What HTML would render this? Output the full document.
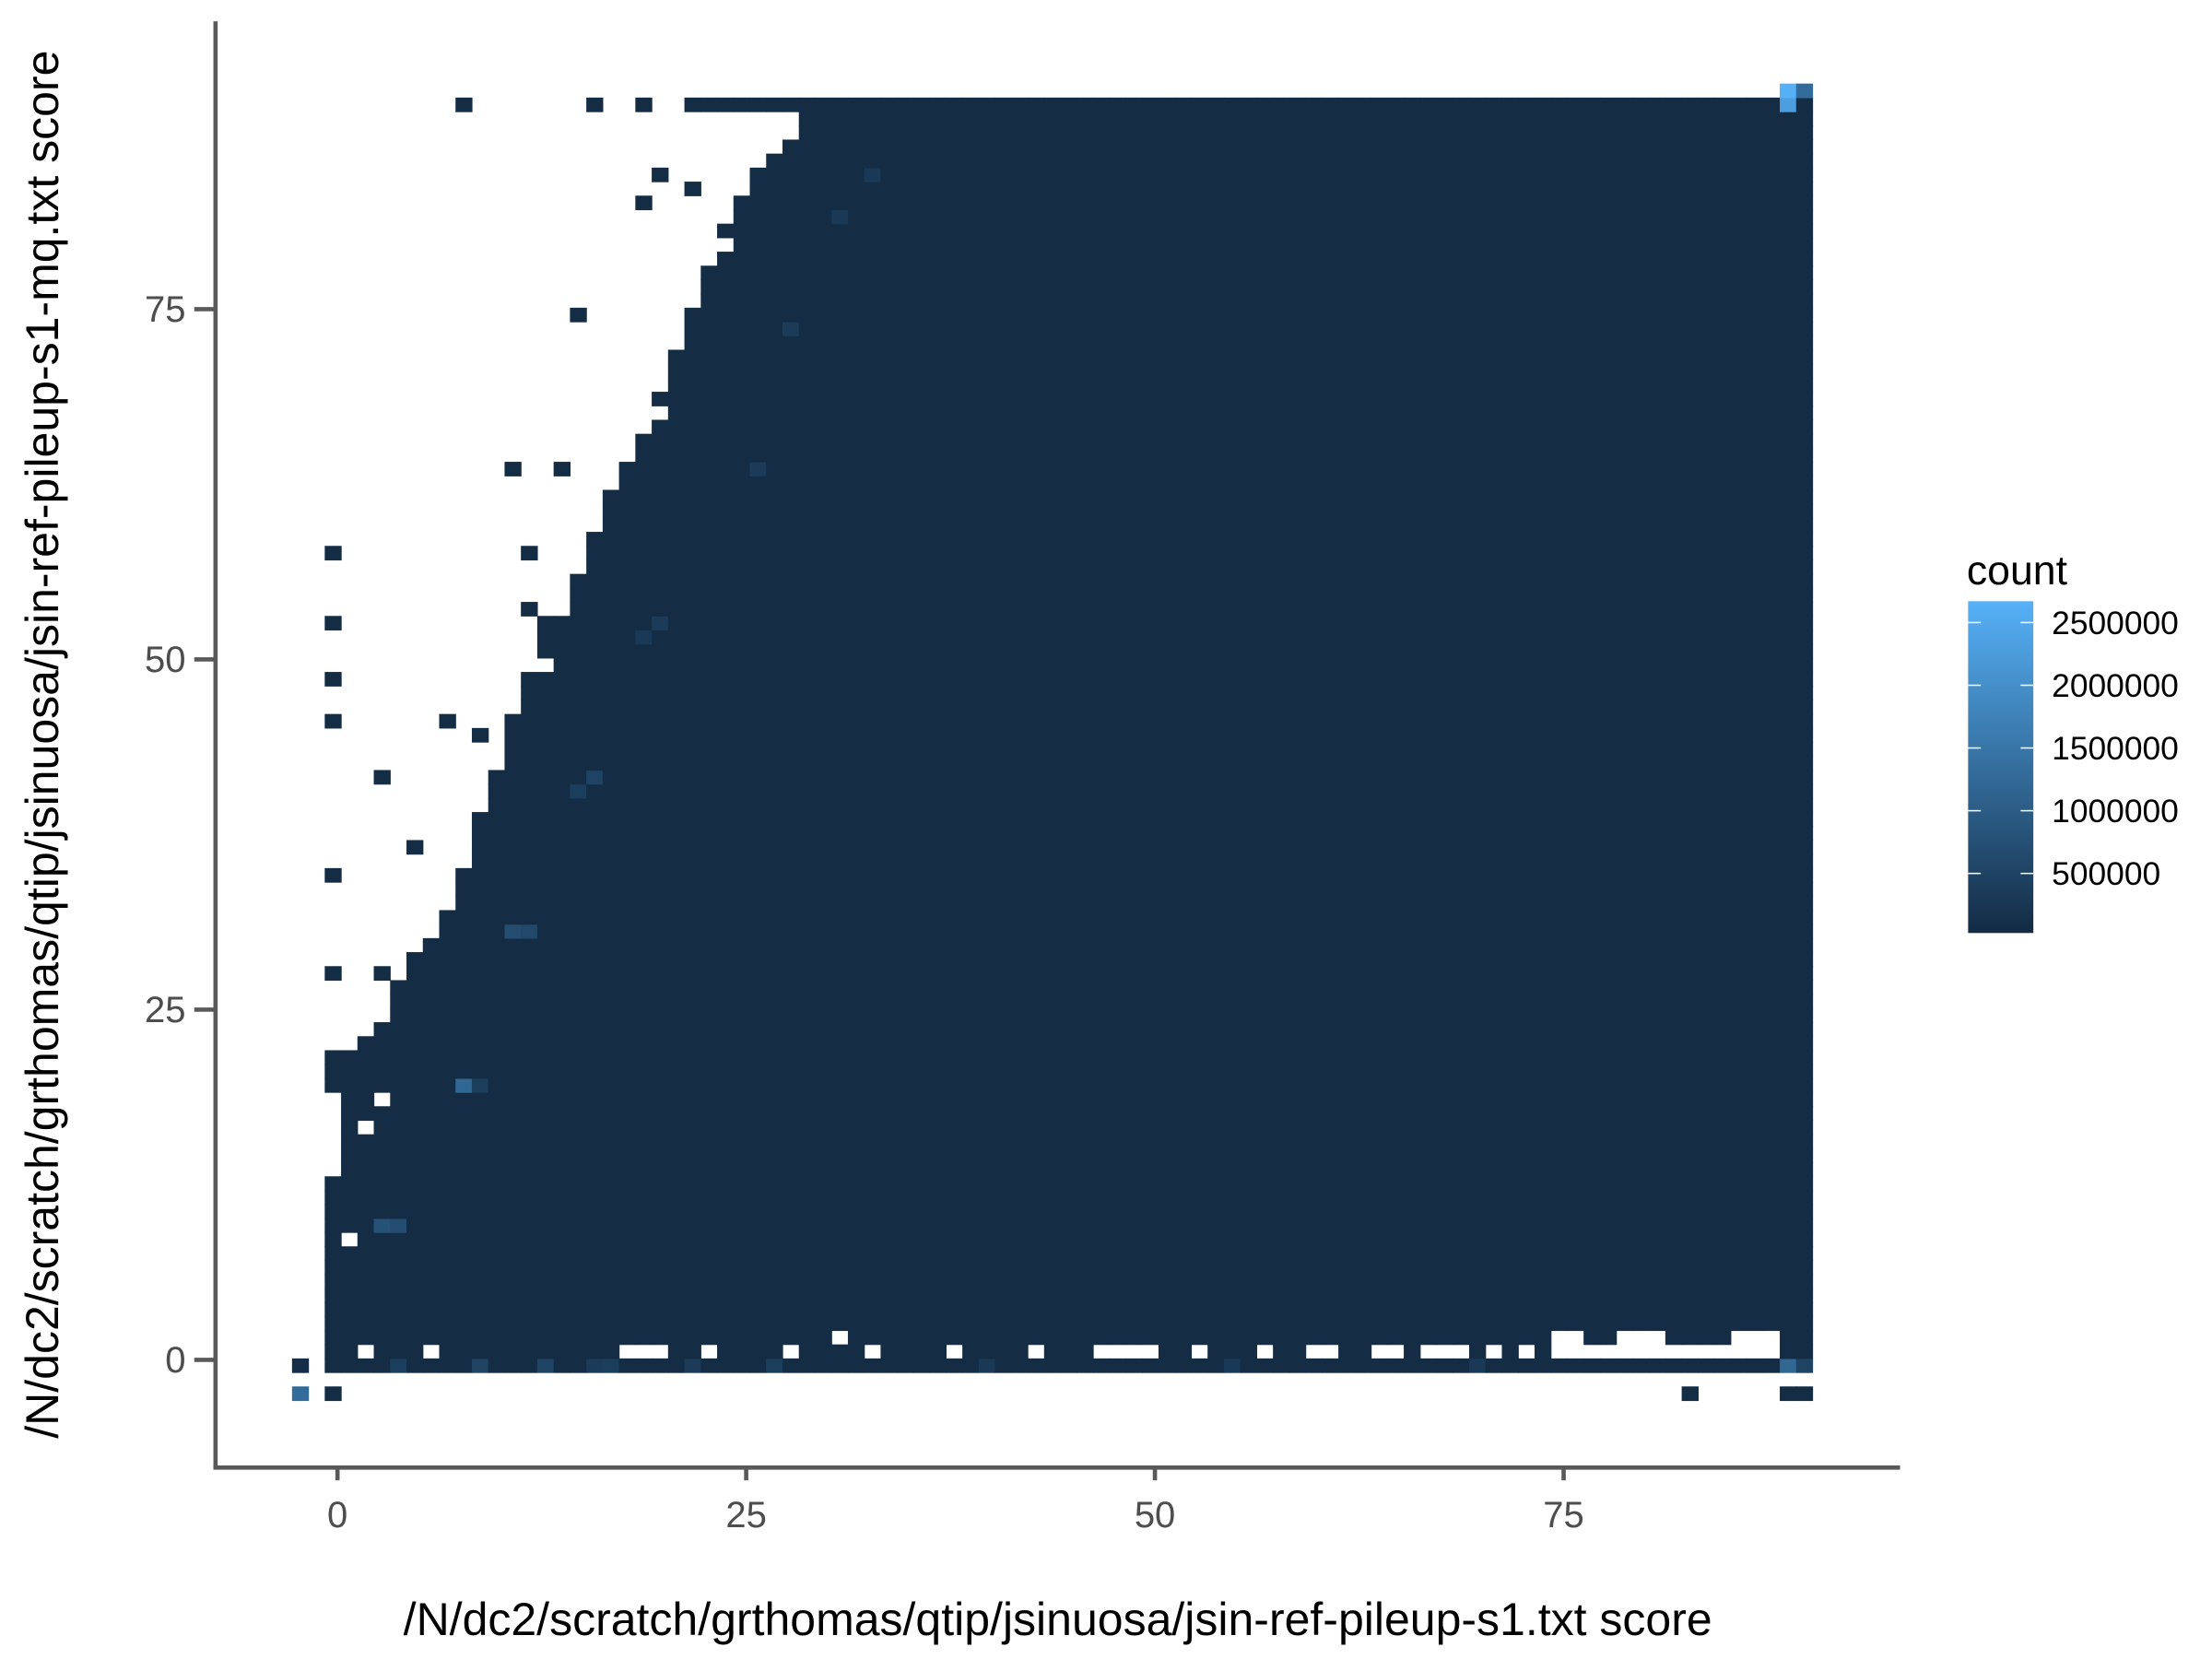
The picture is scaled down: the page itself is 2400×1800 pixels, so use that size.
<!DOCTYPE html>
<html><head><meta charset="utf-8"><style>
html,body{margin:0;padding:0;background:#fff;}
svg{display:block;}
text{font-family:"Liberation Sans",sans-serif;}
</style></head><body>
<svg id="chart" width="2400" height="1800" viewBox="0 0 1560 1170" xmlns="http://www.w3.org/2000/svg">
<g id="cells"></g>
<g id="axes"></g>
<g id="legend"></g>
</svg>
<script>
// ---- data ----
const xTicks = [0, 25, 50, 75];
const yTicks = [0, 25, 50, 75];
const legendTicks = [500000, 1000000, 1500000, 2000000, 2500000];
// left-most filled column for each row 0..90
const rowStart = [0,0,0,0,0,0,0,0,0,0,0,0,0,0,1,1,1,1,1,1,0,0,0,2,3,4,4,4,5,5,6,7,7,8,8,8,9,9,9,9,10,10,10,11,11,11,11,12,12,12,13,13,13,13,15,15,15,16,16,16,17,17,17,18,18,19,19,20,20,20,21,21,21,22,22,22,23,23,23,24,24,24,25,25,26,26,27,28,29,29,23];
const rowEnd = 90;
const baseCount = 60000;
// white holes [col,row]
const holes = [[2,1],[6,1],[18,1],[19,1],[20,1],[23,1],[28,1],[33,1],[38,1],[43,1],[47,1],[48,1],[49,1],[50,1],[53,1],[57,1],[60,1],[61,1],[64,1],[65,1],[67,1],[68,1],[69,1],[71,1],[73,1],[75,1],[76,1],[77,1],[78,1],[79,1],[80,1],[81,1],[82,1],[83,1],[84,1],[85,1],[86,1],[87,1],[88,1],[31,2],[75,2],[76,2],[79,2],[80,2],[81,2],[86,2],[87,2],[88,2],[83,1],[1,9],[2,17],[3,19],[13,50],[16,60],[18,67],[20,68],[23,80],[24,80],[22,86],[23,87],[24,88]];
// isolated cells [col,row,count]
const extras = [[-2,0,90000],[-2,-2,1300000],[0,-2,60000],[83,-2,60000],[89,-2,60000],[90,-2,60000],
[0,58,60000],[0,53,60000],[0,49,60000],[0,46,60000],[0,35,60000],[0,28,60000],[3,28,60000],[3,42,60000],[5,37,60000],[7,46,60000],[9,45,60000],[11,64,60000],[14,64,60000],[15,75,60000],[12,58,60000],[12,54,60000],[19,83,60000],[20,85,60000],[22,84,60000],[8,90,60000],[16,90,60000],[19,90,60000],[22,90,60000],[89,91,2650000],[90,91,1300000]];
// brighter cells [col,row,count]
const bright = [[8,20,1200000],[9,20,400000],[11,31,700000],[12,31,600000],[3,10,800000],[4,10,700000],[16,42,500000],[15,41,400000],[89,90,2300000],[89,0,1200000],[90,0,500000],
[4,0,400000],[9,0,500000],[13,0,500000],[17,0,400000],[16,0,350000],[22,0,350000],[27,0,400000],[40,0,300000],[55,0,300000],[70,0,300000],[20,53,350000],[26,64,350000],[28,74,350000],[31,82,300000],[33,85,300000],[19,52,300000]];
const cMin = 25000, cMax = 2670000;

// ---- scales ----
const X0 = 238, XS = 11.53, Y0 = 959, YS = 9.88;
const sx = v => X0 + v * XS;
const sy = v => Y0 - v * YS;
const lo = [19,43,67], hi = [86,177,247];
function color(c){
  let t = Math.max(0, Math.min(1, (c - cMin) / (cMax - cMin)));
  const m = lo.map((a,i)=>Math.round(a + (hi[i]-a)*t));
  return `rgb(${m[0]},${m[1]},${m[2]})`;
}
const NS = "http://www.w3.org/2000/svg";
function mk(tag, attrs, parent){
  const e = document.createElementNS(NS, tag);
  for (const k in attrs) e.setAttribute(k, attrs[k]);
  parent.appendChild(e); return e;
}
// ---- build grid ----
const grid = {};
rowStart.forEach((s, r) => { for (let c = s; c <= rowEnd; c++) grid[c+","+r] = baseCount; });
holes.forEach(([c,r]) => { delete grid[c+","+r]; });
extras.forEach(([c,r,v]) => { grid[c+","+r] = v; });
bright.forEach(([c,r,v]) => { grid[c+","+r] = v; });
const cellsG = document.getElementById('cells');
for (const key in grid) {
  const [c, r] = key.split(',').map(Number);
  const x1 = sx(c - 0.78), x2 = sx(c + 0.22), y1 = sy(r + 0.1), y2 = sy(r - 0.9);
  const el = mk('rect', {x:x1, y:y1, width:(x2-x1)+0.4, height:(y2-y1)+0.4, fill:color(grid[key])}, cellsG);
  
  
}
// ---- axes ----
const ax = document.getElementById('axes');
let e = mk('line', {x1:152, y1:15, x2:152, y2:1036, stroke:'#595959', 'stroke-width':3}, ax);
 
e = mk('line', {x1:150.5, y1:1035, x2:1340, y2:1035, stroke:'#595959', 'stroke-width':3}, ax);
 
xTicks.forEach(v => {
  const t = mk('line', {x1:sx(v), y1:1036, x2:sx(v), y2:1044, stroke:'#595959', 'stroke-width':3}, ax);
   
  const l = mk('text', {x:sx(v), y:1077, 'text-anchor':'middle', 'font-size':26, fill:'#4d4d4d'}, ax);
  l.textContent = v;
   
});
yTicks.forEach(v => {
  const t = mk('line', {x1:137, y1:sy(v), x2:151, y2:sy(v), stroke:'#595959', 'stroke-width':3}, ax);
   
  const l = mk('text', {x:131, y:sy(v)+9, 'text-anchor':'end', 'font-size':26, fill:'#4d4d4d'}, ax);
  l.textContent = v;
   
});
e = mk('text', {x:746, y:1153, 'text-anchor':'middle', 'font-size':32.5, fill:'#000'}, ax);
e.textContent = '/N/dc2/scratch/grthomas/qtip/jsinuosa/jsin-ref-pileup-s1.txt score';
 
e = mk('text', {x:0, y:0, 'text-anchor':'middle', 'font-size':32.5, fill:'#000', transform:'translate(41,525) rotate(-90)'}, ax);
e.textContent = '/N/dc2/scratch/grthomas/qtip/jsinuosa/jsin-ref-pileup-s1-mq.txt score';
 
// ---- legend ----
const lg = document.getElementById('legend');
const defs = mk('defs', {}, lg);
const gr = mk('linearGradient', {id:'lg', x1:0, y1:1, x2:0, y2:0}, defs);
mk('stop', {offset:0, 'stop-color':color(cMin)}, gr);
mk('stop', {offset:1, 'stop-color':color(cMax)}, gr);
const LB = 658, LT = 424;
const ly = v => LB - (v - cMin) / (cMax - cMin) * (LB - LT);
e = mk('text', {x:1387, y:412, 'font-size':29, fill:'#000'}, lg);
e.textContent = 'count';
 
e = mk('rect', {x:1388, y:LT, width:46, height:LB-LT, fill:'url(#lg)'}, lg);
 
legendTicks.forEach(v => {
  const y = ly(v);
  let t = mk('line', {x1:1388, y1:y, x2:1397, y2:y, stroke:'#fff', 'stroke-width':1}, lg);
   
  t = mk('line', {x1:1425, y1:y, x2:1434, y2:y, stroke:'#fff', 'stroke-width':1}, lg);
   
  const l = mk('text', {x:1447, y:y+8, 'font-size':23, fill:'#000'}, lg);
  l.textContent = v;
   
});
</script>
</body></html>
